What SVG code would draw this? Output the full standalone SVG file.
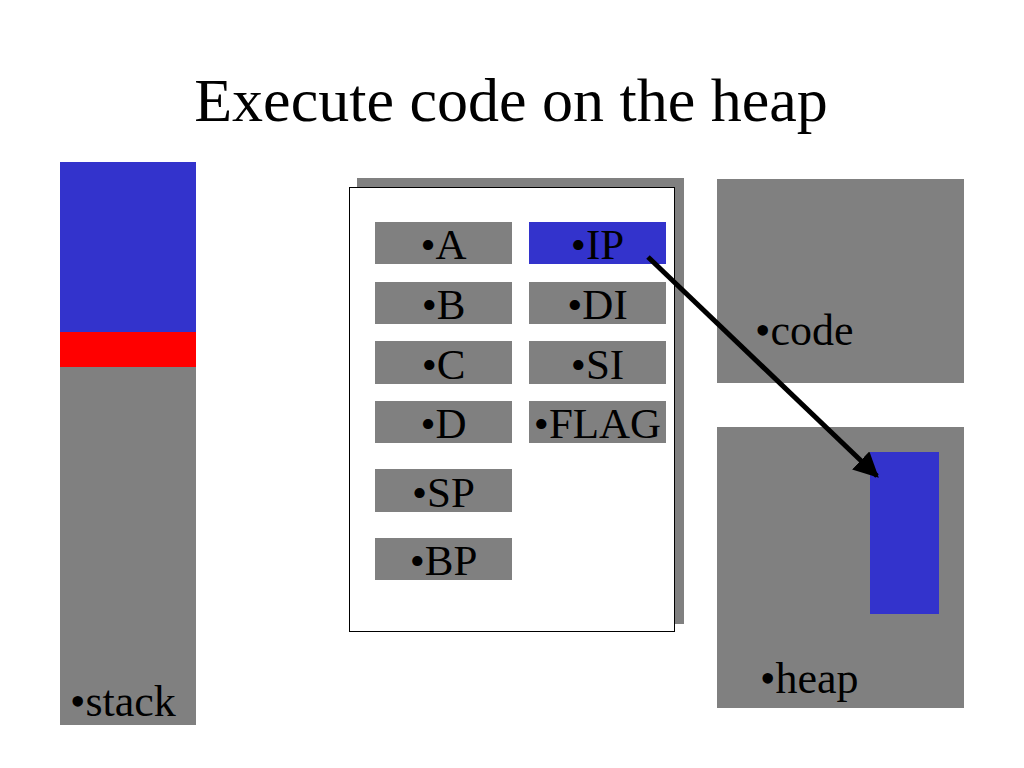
<svg xmlns="http://www.w3.org/2000/svg" width="1024" height="768" viewBox="0 0 1024 768">
<defs>
<style>
.g{fill:#808080}
.b{fill:#3333CC}
.t{font-family:"Liberation Serif","Times New Roman",serif;fill:#000}
.reg{font-size:43px;text-anchor:middle}
</style>
<marker id="ah" viewBox="0 0 10 10" refX="9" refY="5" markerWidth="5" markerHeight="5" orient="auto" markerUnits="strokeWidth">
<path d="M0,0 L10,5 L0,10 z" fill="#000"/>
</marker>
</defs>
<rect width="1024" height="768" fill="#fff"/>
<text class="t" x="511" y="121" font-size="62" text-anchor="middle">Execute code on the heap</text>
<g id="stack">
<rect class="b" x="60" y="162" width="136" height="170"/>
<rect x="60" y="332" width="136" height="35" fill="#FF0000"/>
<rect class="g" x="60" y="367" width="136" height="358"/>
<text class="t" x="70" y="716" font-size="44">•stack</text>
</g>
<g id="registers">
<rect class="g" x="357" y="178" width="327" height="446"/>
<rect x="349.5" y="187.5" width="325" height="444" fill="#fff" stroke="#000" stroke-width="1"/>
</g>
<g id="reg-A"><rect class="g" x="375" y="222" width="137" height="42"/><text class="t reg" x="443.5" y="259">•A</text></g>
<g id="reg-B"><rect class="g" x="375" y="282" width="137" height="42"/><text class="t reg" x="443.5" y="319">•B</text></g>
<g id="reg-C"><rect class="g" x="375" y="341" width="137" height="43"/><text class="t reg" x="443.5" y="379">•C</text></g>
<g id="reg-D"><rect class="g" x="375" y="401" width="137" height="42"/><text class="t reg" x="443.5" y="438">•D</text></g>
<g id="reg-SP"><rect class="g" x="375" y="469" width="137" height="43"/><text class="t reg" x="443.5" y="507">•SP</text></g>
<g id="reg-BP"><rect class="g" x="375" y="538" width="137" height="42"/><text class="t reg" x="443.5" y="575">•BP</text></g>
<g id="reg-IP"><rect class="b" x="529" y="222" width="137" height="42"/><text class="t reg" x="597.5" y="259">•IP</text></g>
<g id="reg-DI"><rect class="g" x="529" y="282" width="137" height="42"/><text class="t reg" x="597.5" y="319">•DI</text></g>
<g id="reg-SI"><rect class="g" x="529" y="341" width="137" height="43"/><text class="t reg" x="597.5" y="379">•SI</text></g>
<g id="reg-FLAG"><rect class="g" x="529" y="401" width="137" height="42"/><text class="t reg" x="597.5" y="438" font-size="44">•FLAG</text></g>
<g id="code">
<rect class="g" x="717" y="179" width="247" height="204"/>
<text class="t" x="755" y="345" font-size="44">•code</text>
</g>
<g id="heap">
<rect class="g" x="717" y="427" width="247" height="281"/>
<rect class="b" x="870" y="452" width="69" height="162"/>
<text class="t" x="760" y="693" font-size="44">•heap</text>
</g>
<g id="connectors">
<line x1="648" y1="257" x2="877" y2="476" stroke="#000" stroke-width="5" marker-end="url(#ah)"/>
</g>
</svg>
